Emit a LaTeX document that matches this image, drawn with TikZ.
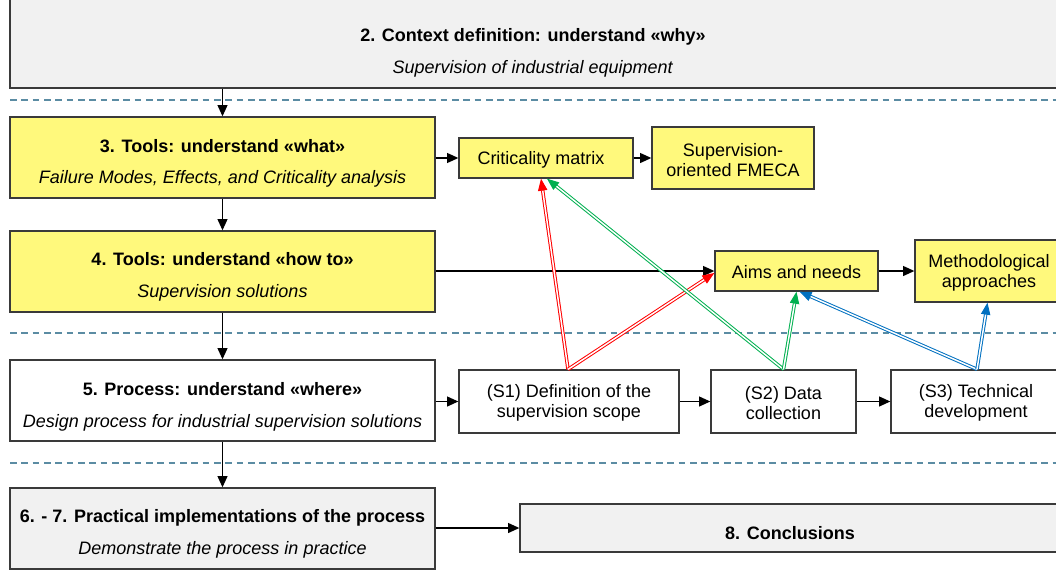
\documentclass[tikz,border=0pt]{standalone}
\usepackage{fontspec}
\setmainfont{Liberation Sans}
\usetikzlibrary{arrows.meta,calc}
\definecolor{boxgray}{HTML}{F1F1F1}
\definecolor{boxyellow}{HTML}{FFF97C}
\definecolor{edgegray}{HTML}{3A3A3A}
\definecolor{sepblue}{HTML}{5B8CA3}
\definecolor{ared}{HTML}{FF0000}
\definecolor{agreen}{HTML}{00B050}
\definecolor{ablue}{HTML}{0070C0}
\tikzset{
  box/.style={draw=edgegray, line width=1pt, inner sep=0pt},
  gbox/.style={box, fill=boxgray},
  ybox/.style={box, fill=boxyellow},
  wbox/.style={box, fill=white},
  txt/.style={inner sep=0pt, align=center, font=\fontsize{13.5}{15.5}\selectfont},
  flow/.style={draw=black, line width=1pt, -{Triangle[length=8.5pt,width=7.5pt]}},
  sep/.style={draw=sepblue, line width=0.9pt, dash pattern=on 5pt off 3.5pt},
  dbl/.style={line width=0.75pt, double=white, double distance=1.1pt,
    -{Triangle[length=9pt,width=7pt]}},
}
\begin{document}
\begin{tikzpicture}[x=0.75pt,y=-0.75pt]
\useasboundingbox (0,0) rectangle (1056,571);
% separators
\coordinate (s1l) at (10,100); \coordinate (s1r) at (1056,100);
\coordinate (s2l) at (10,333); \coordinate (s2r) at (1056,333);
\coordinate (s3l) at (10,463); \coordinate (s3r) at (1056,463);
\draw[sep] (s1l) -- (s1r);
\draw[sep] (s2l) -- (s2r);
\draw[sep] (s3l) -- (s3r);
% main column boxes
\node[gbox, minimum width=787.5pt, minimum height=67.5pt] (ctx) at (535,43) {};
\node[ybox, minimum width=318.75pt, minimum height=60.75pt] (what) at (222.5,157.5) {};
\node[ybox, minimum width=318.75pt, minimum height=60.75pt] (how) at (222.5,271.5) {};
\node[wbox, minimum width=318.75pt, minimum height=60.75pt] (where) at (222.5,400.5) {};
\node[gbox, minimum width=318.75pt, minimum height=60.75pt] (impl) at (222.5,528.5) {};
% main column texts
\node[txt] (ctxt) at (533,53)
  {\textbf{2. Context definition: understand «why»}\\[8pt]\textit{Supervision of industrial equipment}};
\node[txt] (whatt) at (222.5,163.5)
  {\textbf{3. Tools: understand «what»}\\[8pt]\textit{Failure Modes, Effects, and Criticality analysis}};
\node[txt] (howt) at (222.5,277)
  {\textbf{4. Tools: understand «how to»}\\[8pt]\textit{Supervision solutions}};
\node[txt] (wheret) at (222.5,407)
  {\textbf{5. Process: understand «where»}\\[8pt]\textit{Design process for industrial supervision solutions}};
\node[txt] (implt) at (222.5,534)
  {\textbf{6. - 7. Practical implementations of the process}\\[8pt]\textit{Demonstrate the process in practice}};
% right boxes
\node[ybox, minimum width=130.5pt, minimum height=30pt] (crit) at (546,158) {};
\node[ybox, minimum width=121.5pt, minimum height=46.5pt] (fmeca) at (733,158) {};
\node[ybox, minimum width=122.25pt, minimum height=30pt] (aims) at (796.5,271) {};
\node[ybox, minimum width=108.75pt, minimum height=46.5pt] (meth) at (987.5,271) {};
\node[wbox, minimum width=165pt, minimum height=47.25pt] (sa) at (569,401.5) {};
\node[wbox, minimum width=108.75pt, minimum height=47.25pt] (sb) at (783.5,401.5) {};
\node[wbox, minimum width=126pt, minimum height=47.25pt] (sc) at (975,401.5) {};
\node[gbox, minimum width=405pt, minimum height=36pt] (concl) at (790,528) {};
% right texts
\node[txt] (critt) at (541,159.5) {Criticality matrix};
\node[txt] (fmecat) at (733,160) {Supervision-\\oriented FMECA};
\node[txt] (aimst) at (796.5,272) {Aims and needs};
\node[txt] (metht) at (989,273) {Methodological\\approaches};
\node[txt] (sat) at (569,403) {(S1) Definition of the\\supervision scope};
\node[txt] (sbt) at (783.5,403) {(S2) Data\\collection};
\node[txt] (sct) at (976,403) {(S3) Technical\\development};
\node[txt] (conclt) at (790,533) {\textbf{8. Conclusions}};
% vertical flow
\draw[flow] (ctx.south -| what.north) -- (what.north);
\draw[flow] (what) -- (how);
\draw[flow] (how) -- (where);
\draw[flow] (where) -- (impl);
% horizontal flow
\draw[flow] (what.east |- crit.west) -- (crit.west);
\draw[flow] (crit) -- (fmeca);
\draw[flow] (how.east |- aims.west) -- (aims.west);
\draw[flow] (aims) -- (meth);
\draw[flow] (where.east |- sa.west) -- (sa.west);
\draw[flow] (sa) -- (sb);
\draw[flow] (sb) -- (sc);
\draw[flow] (impl.east |- concl.west) -- (concl.west);
% double arrows
\draw[dbl, ared] ($(sa.north)+(-1,0)$) -- ($(crit.south)+(-5,0)$);
\draw[dbl, ared] ($(sa.north)+(-1,0)$) -- ($(aims.west)+(0,2)$);
\draw[dbl, agreen] (sb.north) -- ($(crit.south)+(1,0)$);
\draw[dbl, agreen] (sb.north) -- (aims.south);
\draw[dbl, ablue] ($(sc.north)+(2,0)$) -- ($(aims.south)+(3,0)$);
\draw[dbl, ablue] ($(sc.north)+(2,0)$) -- (meth.south);
\end{tikzpicture}
\end{document}
